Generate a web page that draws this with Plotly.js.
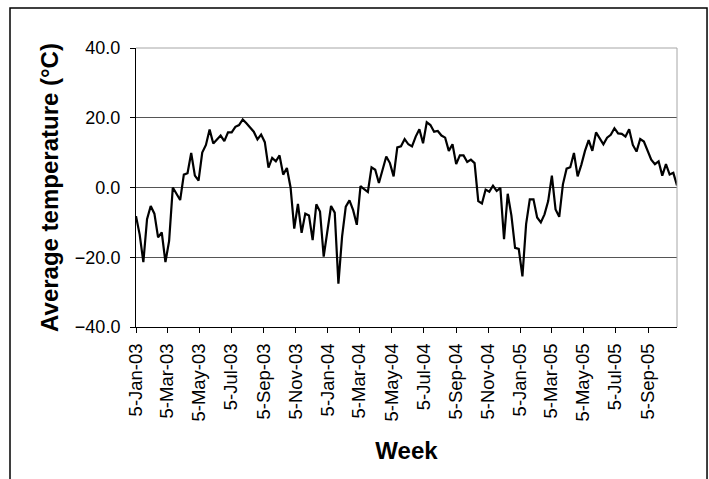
<!DOCTYPE html>
<html>
<head>
<meta charset="utf-8">
<script src="https://cdn.plot.ly/plotly-3.0.1.min.js"></script>
<style>
  html, body { margin: 0; padding: 0; background: #ffffff; }
  #chart { width: 709px; height: 479px; }
</style>
</head>
<body>
<div id="chart"></div>
<script>
// First week of the series and weekly step (categories along the x axis)
const firstWeek = '2003-01-05';
const lastWeek = '2005-10-30';

// Average weekly temperature (°C)
const avgTemp = [
  -8.2, -13.5, -21.4, -9.1, -5.3, -7.5, -14.3, -12.9, -21.4, -15.3,
  0.0, -1.8, -3.6, 3.7, 4.1, 9.9, 3.4, 2.0, 10.0, 12.2,
  16.6, 12.6, 13.8, 14.9, 13.3, 15.8, 15.8, 17.4, 17.9, 19.5,
  18.4, 17.3, 16.0, 13.8, 15.2, 13.0, 5.7, 8.5, 7.5, 9.2,
  3.7, 5.6, 0.0, -11.8, -4.7, -13.0, -7.5, -8.0, -15.1, -4.8,
  -6.9, -19.8, -12.0, -5.3, -7.2, -27.6, -14.0, -5.5, -3.7, -6.5,
  -10.7, 0.4, -0.5, -1.3, 5.8, 5.1, 1.3, 5.5, 8.9, 7.0,
  3.2, 11.5, 11.8, 13.9, 12.4, 11.8, 14.6, 16.7, 12.7, 18.7,
  17.9, 16.0, 16.2, 14.9, 14.3, 10.5, 12.4, 6.7, 9.2, 9.2,
  7.3, 8.0, 7.0, -3.9, -4.6, -0.6, -1.2, 0.5, -1.0, -0.1,
  -14.8, -1.8, -8.0, -17.3, -17.6, -25.5, -10.5, -3.4, -3.4, -8.6,
  -10.0, -7.7, -3.9, 3.4, -6.3, -8.4, 0.9, 5.4, 5.8, 9.9,
  3.2, 6.5, 10.5, 13.6, 10.5, 15.8, 14.1, 12.4, 14.3, 15.1,
  17.0, 15.5, 15.4, 14.6, 16.7, 12.2, 10.3, 13.9, 13.2, 10.3,
  8.0, 6.7, 7.5, 3.4, 6.7, 3.7, 4.2, 0.6
];

// Tick positions and labels on the x axis
const tickDates = [
  '2003-01-05', '2003-03-05', '2003-05-05', '2003-07-05', '2003-09-05', '2003-11-05',
  '2004-01-05', '2004-03-05', '2004-05-05', '2004-07-05', '2004-09-05', '2004-11-05',
  '2005-01-05', '2005-03-05', '2005-05-05', '2005-07-05', '2005-09-05'
];
const tickLabels = [
  '5-Jan-03', '5-Mar-03', '5-May-03', '5-Jul-03', '5-Sep-03', '5-Nov-03',
  '5-Jan-04', '5-Mar-04', '5-May-04', '5-Jul-04', '5-Sep-04', '5-Nov-04',
  '5-Jan-05', '5-Mar-05', '5-May-05', '5-Jul-05', '5-Sep-05'
];

const yTicks = [-40, -20, 0, 20, 40];

// Weekly dates (one per value)
const weeks = avgTemp.map((_, i) => {
  const d = new Date(firstWeek + 'T00:00:00Z');
  d.setUTCDate(d.getUTCDate() + 7 * i);
  return d.toISOString().slice(0, 10);
});

const FONT = 'Liberation Sans, Arial, Helvetica, sans-serif';

const trace = {
  type: 'scatter',
  mode: 'lines',
  x: weeks,
  y: avgTemp,
  line: { color: '#000000', width: 2.2 },
  hoverinfo: 'x+y'
};

const layout = {
  width: 709,
  height: 479,
  margin: { l: 136, r: 32, t: 48, b: 152, pad: 0 },
  paper_bgcolor: '#ffffff',
  plot_bgcolor: '#ffffff',
  showlegend: false,
  font: { family: FONT, color: '#000000' },
  xaxis: {
    type: 'date',
    range: [firstWeek, lastWeek],
    tickvals: tickDates,
    ticktext: tickLabels,
    tickangle: -90,
    ticks: 'outside',
    ticklen: 5,
    tickcolor: '#000000',
    ticklabelstandoff: 3,
    tickfont: { family: FONT, size: 18.5, color: '#000000' },
    showgrid: false,
    showline: true,
    linecolor: '#000000',
    linewidth: 1,
    zeroline: false,
    title: { text: 'Week', font: { family: FONT, size: 24, color: '#000000', weight: 'bold' }, standoff: 21 },
    automargin: false
  },
  yaxis: {
    range: [-40, 40],
    tickvals: yTicks,
    tickformat: '.1f',
    ticks: 'outside',
    ticklen: 5,
    tickcolor: '#000000',
    ticklabelstandoff: 6,
    tickfont: { family: FONT, size: 18, color: '#000000' },
    showgrid: true,
    gridcolor: '#555555',
    gridwidth: 1,
    showline: true,
    linecolor: '#000000',
    linewidth: 1,
    zeroline: false,
    title: { text: 'Average temperature (°C)', font: { family: FONT, size: 24, color: '#000000', weight: 'bold' }, standoff: 9 },
    automargin: false
  },
  shapes: [
    { type: 'line', xref: 'paper', yref: 'paper', x0: 0, x1: 1, y0: 1, y1: 1,
      line: { color: '#a6a6a6', width: 1 }, layer: 'above' },
    { type: 'line', xref: 'paper', yref: 'paper', x0: 1, x1: 1, y0: 0, y1: 1,
      line: { color: '#a6a6a6', width: 1 }, layer: 'above' },
    { type: 'rect', xref: 'paper', yref: 'paper', x0: -0.2329, x1: 1.0555, y0: -0.62, y1: 1.1434,
      line: { color: '#000000', width: 1.5 }, layer: 'below' }
  ]
};

Plotly.newPlot('chart', [trace], layout, { displayModeBar: false, staticPlot: true });
</script>
</body>
</html>
